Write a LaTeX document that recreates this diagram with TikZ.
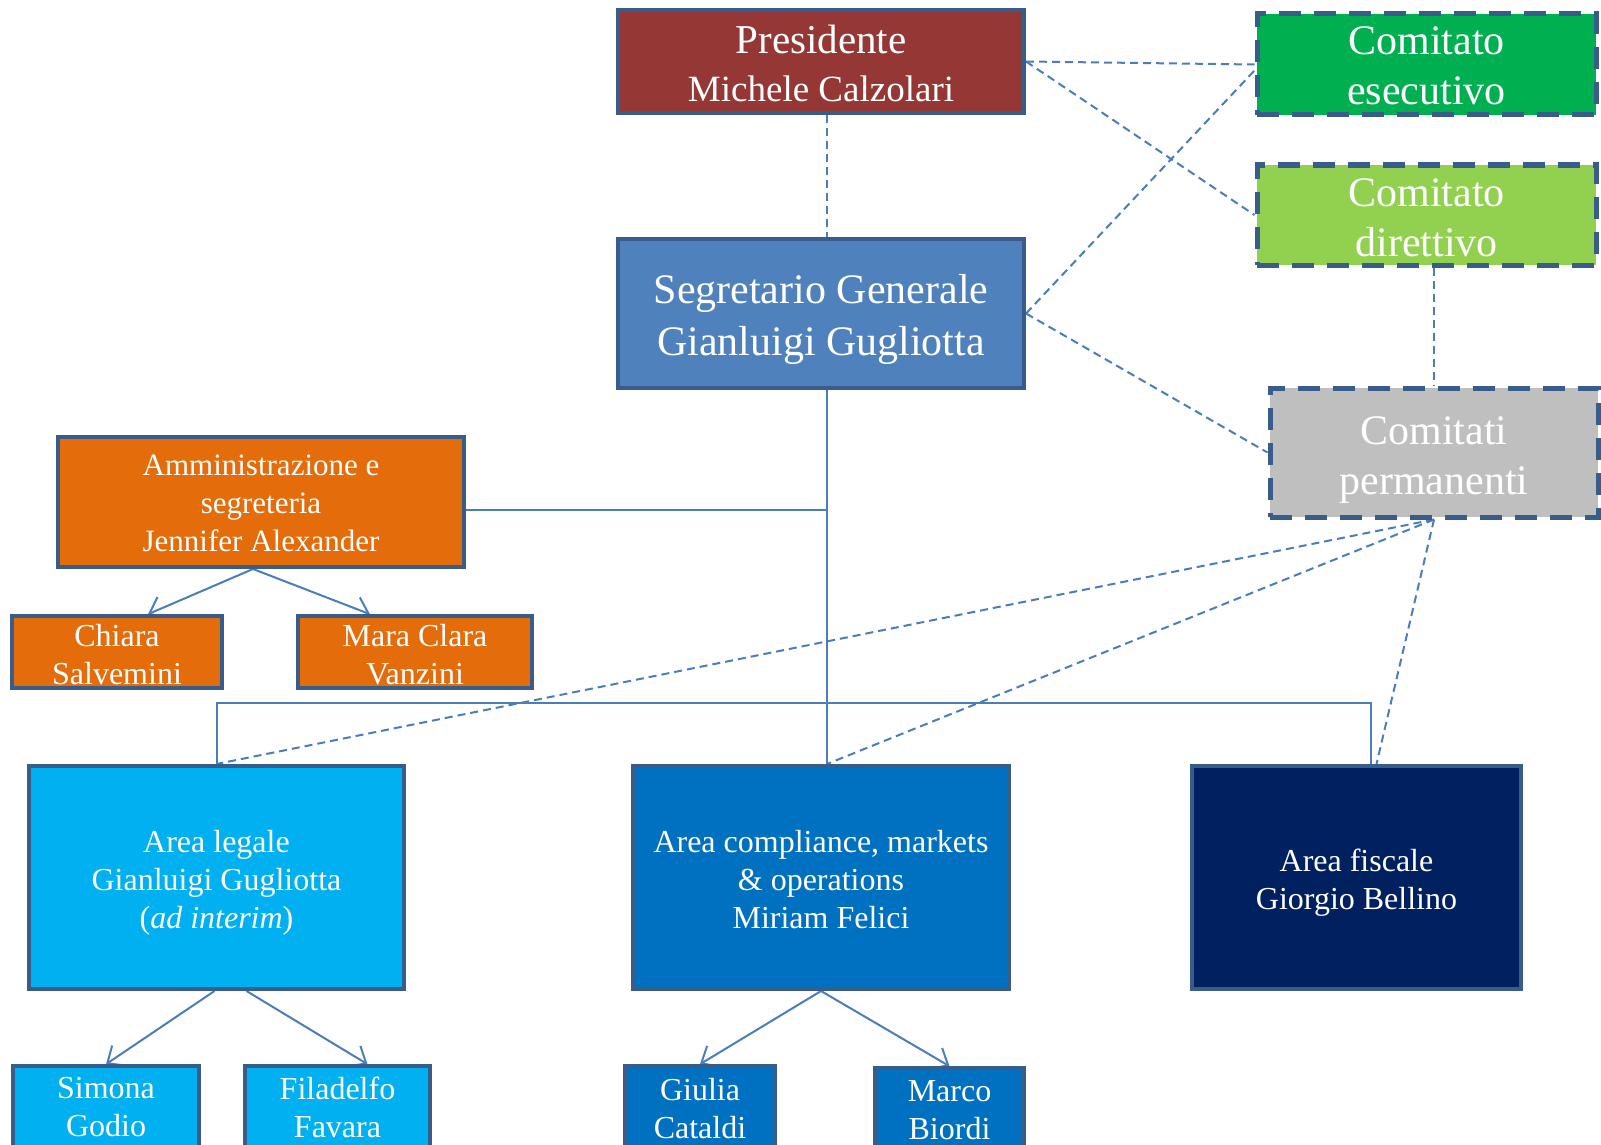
\documentclass[tikz,border=0pt]{standalone}
\usepackage{fontspec}
\setmainfont{Liberation Serif}
\usetikzlibrary{arrows.meta,calc,positioning}
\definecolor{bordo}{HTML}{385D8A}
\definecolor{linea}{HTML}{4A7EBB}
\definecolor{rosso}{HTML}{953735}
\definecolor{blusg}{HTML}{4F81BD}
\definecolor{verde}{HTML}{00B050}
\definecolor{verdec}{HTML}{92D050}
\definecolor{grigio}{HTML}{BFBFBF}
\definecolor{arancio}{HTML}{E46C0A}
\definecolor{azzurro}{HTML}{00B0F0}
\definecolor{blu}{HTML}{0070C0}
\definecolor{bluscuro}{HTML}{002060}
\pgfdeclarelayer{edgelayer}
\pgfsetlayers{edgelayer,main}
\newcommand{\alto}[1]{\rule{0pt}{#1}}
\tikzset{
  ufficio/.style={draw=bordo,line width=2pt,text=white,align=center,inner sep=0pt},
  comitato/.style={ufficio,line width=2.5pt,dash pattern=on 11pt off 6.5pt,font=\fontsize{21}{25}\selectfont},
  area/.style={ufficio,minimum height=111.5pt,font=\fontsize{16}{19}\selectfont},
  nome/.style={ufficio,line width=1.8pt,font=\fontsize{16}{19}\selectfont},
  legame/.style={linea,line width=1pt},
  tratto/.style={legame,dash pattern=on 4pt off 2.5pt},
}

\begin{document}
\begin{tikzpicture}[x=0.5pt,y=-0.5pt]
\clip (0,0) rectangle (1601,1145);
% vertice
\node[ufficio,fill=rosso,minimum width=203pt,minimum height=51.5pt,font=\fontsize{18.5}{24}\selectfont] (pres) at (821,61.5)
  {\alto{16.5pt}{\fontsize{20.5}{24}\selectfont Presidente}\\Michele Calzolari};
\node[ufficio,fill=blusg,minimum width=203pt,minimum height=74.5pt,font=\fontsize{21}{26}\selectfont] (seg) at (821,313.5)
  {\alto{20.3pt}Segretario Generale\\Gianluigi Gugliotta};
% comitati
\node[comitato,fill=verde,minimum width=169.5pt,minimum height=50.5pt] (esec) at (1426.5,64.5) {\alto{15.7pt}Comitato\\esecutivo};
\node[comitato,fill=verdec,minimum width=169.5pt,minimum height=50pt] (dir) at (1426.5,215) {\alto{16.7pt}Comitato\\direttivo};
\node[comitato,fill=grigio,minimum width=164pt,minimum height=64.5pt] (perm) at (1434,452.5) {\alto{21.5pt}Comitati\\permanenti};
% amministrazione
\node[ufficio,fill=arancio,minimum width=203pt,minimum height=65pt,font=\fontsize{15.5}{19}\selectfont] (admin) at (261,502)
  {\alto{12.1pt}Amministrazione e\\segreteria\\Jennifer Alexander};
\node[nome,fill=arancio,minimum width=105pt,minimum height=36pt] (chiara) at (117,652) {\alto{13.4pt}Chiara\\Salvemini};
\node[nome,fill=arancio,minimum width=117pt,minimum height=36pt] (mara) at (415,652) {\alto{13.4pt}Mara Clara\\Vanzini};
% aree
\node[area,fill=azzurro,minimum width=187.5pt] (legale) at (216.5,877.5)
  {\alto{16.4pt}Area legale\\Gianluigi Gugliotta\\(\textit{ad interim})};
\node[area,fill=blu,minimum width=188pt] (compl) at (821,877.5)
  {\alto{13.2pt}Area compliance, markets\\\& operations\\Miriam Felici};
\node[area,fill=bluscuro,minimum width=164.5pt] (fisc) at (1356.5,877.5)
  {\alto{16.4pt}Area fiscale\\Giorgio Bellino};
\node[nome,fill=azzurro,minimum width=93pt,minimum height=41pt] (simona) at (106,1107) {Simona\\Godio};
\node[nome,fill=azzurro,minimum width=92.5pt,minimum height=41pt] (fila) at (337.5,1107) {Filadelfo\\Favara};
\node[nome,fill=blu,minimum width=75pt,minimum height=41pt] (giulia) at (700,1107) {\alto{12.4pt}Giulia\\Cataldi};
\node[nome,fill=blu,minimum width=74.5pt,minimum height=41pt] (marco) at (949.5,1109) {\alto{12.1pt}Marco\\Biordi};

\begin{pgfonlayer}{edgelayer}
\coordinate (tronco) at (827,0);
\coordinate (ramo) at (827,510);
\coordinate (presa) at (1371,703);
\draw[tratto] (pres.south -| tronco) -- (seg.north -| tronco);
\draw[legame] (seg.south -| tronco) -- (compl.north -| tronco);
\draw[legame] (ramo -| admin.east) -- (ramo);
\draw[legame] ([yshift=-6pt]legale.north) -- (legale.north |- presa) -- (presa) -- (presa |- fisc.north);
\path[tratto]
  (pres.east) edge (esec.west) edge (dir.west)
  (seg.east) edge ([yshift=-3pt]esec.west) edge (perm.west)
  (perm.north |- dir.south) edge (perm.north)
  (perm.south) edge (legale.north) edge (compl.north -| tronco) edge ([xshift=10pt]fisc.north);
\path[legame,->,>={Straight Barb[length=7pt,width=12pt]}]
  ([xshift=-4pt]admin.south) edge ([xshift=15.5pt]chiara.north) edge ([xshift=-22.5pt]mara.north)
  ([xshift=-1pt]legale.south) edge (simona.north)
  ([xshift=15pt]legale.south) edge ([xshift=15pt]fila.north)
  (compl.south) edge (giulia.north) edge (marco.north);
\end{pgfonlayer}
\end{tikzpicture}
\end{document}
